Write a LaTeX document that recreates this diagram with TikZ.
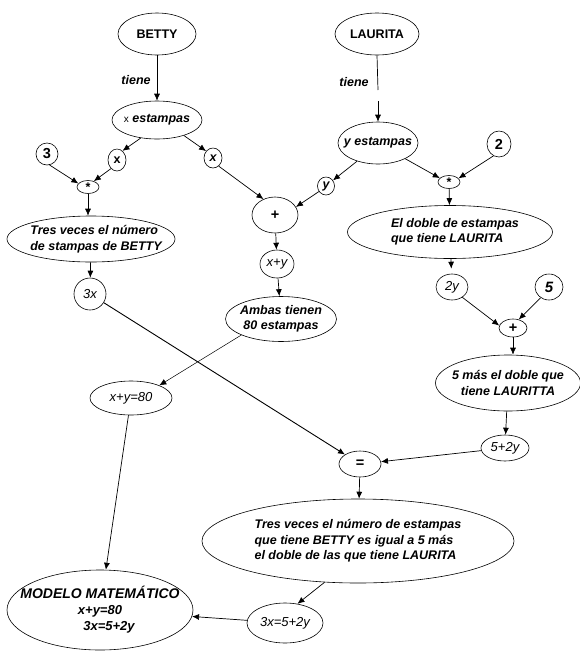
\documentclass[tikz,border=0pt]{standalone}
\usepackage{fontspec}
\setmainfont{Liberation Sans}
\usetikzlibrary{shapes.geometric,arrows.meta}
\newcommand\elnode[6][]{%
  \node[el,minimum width=#4,minimum height=#5] (#2) at (#3) {};
  \node[txt,#1] (#2-t) at (#2.center) {#6};}
\begin{document}
\begin{tikzpicture}[x=1pt,y=-1pt,
  el/.style={ellipse,draw,line width=0.6pt,inner sep=0pt},
  txt/.style={inner sep=0pt,align=center,font=\fontsize{12.5}{15.5}\selectfont\bfseries\itshape},
  up/.style={font=\fontsize{12.5}{14}\selectfont\bfseries},
  mi/.style={font=\fontsize{13}{15}\selectfont\itshape},
  big/.style={font=\fontsize{14.5}{16}\selectfont\bfseries},
  arr/.style={-{Latex[length=7pt,width=6pt]},line width=0.7pt},
  lbl/.style={inner sep=0pt,font=\fontsize{12.5}{15}\selectfont\bfseries\itshape}]
\useasboundingbox[fill=white] (0,0) rectangle (580,665);

% nodes
\elnode[up]{betty}{157,34}{78}{42}{BETTY}
\elnode[up]{laurita}{377,34}{84}{42}{LAURITA}
\elnode{xest}{157,120}{90}{38}{{\fontsize{10}{10}\selectfont\mdseries\upshape x}~estampas}
\elnode{yest}{378,143}{80}{42}{y estampas}
\elnode[big]{three}{47,154}{22}{22}{3}
\elnode[up]{xl}{117,160}{18}{22}{x}
\elnode{xr}{213,158}{18}{20}{x}
\elnode[up]{star1}{88,187}{22}{13}{*}
\elnode[big]{plus1}{275,215}{46}{36}{+}
\elnode[mi]{xy}{277,264}{34}{28}{x+y}
\elnode{ambas}{281,319}{111}{45}{Ambas tienen\\80 estampas}
\elnode[align=left,xshift=5pt]{tres}{91,239}{168}{46}{Tres veces el número\\de stampas de BETTY}
\elnode[mi]{n3x}{90,294}{32}{32}{3x}
\elnode[mi]{xy80}{131,398}{82}{34}{x+y=80}
\elnode{ycirc}{326,186}{17}{18}{y}
\elnode[big]{two}{499,144}{24}{26}{2}
\elnode[up]{star2}{449,182}{22}{13}{*}
\elnode[align=left,xshift=5pt]{doble}{450,232}{205}{53}{El doble de estampas\\que tiene LAURITA}
\elnode[mi]{n2y}{452,287}{32}{26}{2y}
\elnode[font=\fontsize{15}{16}\selectfont\bfseries\itshape]{five}{549,287}{28}{26}{5}
\elnode[big]{plus2}{513,328}{28}{18}{+}
\elnode{mas5}{508,383}{145}{56}{5 más el doble que\\tiene LAURITTA}
\elnode[mi]{n52y}{505,448}{48}{26}{5+2y}
\elnode[big]{eq}{360,464}{42}{26}{=}
\elnode[align=left]{bigt}{358,541}{312}{84}{Tres veces el número de estampas\\que tiene BETTY es igual a 5 más\\el doble de las que tiene LAURITA}
\elnode[mi]{eq2}{285,623}{76}{40}{3x=5+2y}
\elnode[font=\fontsize{14}{16}\selectfont\bfseries\itshape]{modelo}{100,610}{186}{80}{MODELO MATEMÁTICO\\{\fontsize{13}{15}\selectfont x+y=80}\hspace*{16pt}\\\hspace*{18pt}{\fontsize{13}{15}\selectfont 3x=5+2y}}

% labels
\node[lbl] (t1) at (136,80) {tiene};
\node[lbl] (t2) at (354,82) {tiene};

% connectors
\draw[arr] (betty) -- (xest);
\coordinate (l1) at (378,90);
\coordinate (l2) at (378,101);
\draw[line width=0.7pt] (laurita.south) -- (l1);
\draw[arr] (l2) -- (yest.north);
\draw[arr] (xest.228) -- (xl.59);
\draw[arr] (xl.235) -- (star1.45);
\draw[arr] (three.283) -- (star1.160);
\draw[arr] (xest.-30) -- (xr.135);
\draw[arr] (xr.-55) -- (plus1.126);
\draw[arr] (star1) -- (star1 |- tres.north);
\draw[arr] (tres) -- (n3x);
\draw[arr] (plus1) -- (xy);
\draw[arr] (xy) -- (ambas);
\draw[arr,line width=0.5pt] (ambas.202) -- (xy80.24);
\draw[arr] (xy80) -- (modelo);
\draw[arr,line width=0.9pt] (n3x) -- (eq);
\draw[arr] (yest.221) -- (ycirc.39);
\draw[arr] (ycirc.218) -- (plus1.21);
\draw[arr] (yest.-30) -- (star2.157);
\draw[arr] (two.245) -- (star2.21);
\draw[arr] (star2) -- (doble);
\draw[arr,shorten >=5pt] (doble) -- (n2y);
\draw[arr] (n2y.-45) -- (plus2.170);
\draw[arr] (five.232) -- (plus2.56);
\draw[arr] (plus2) -- (plus2 |- mas5.north);
\draw[arr] (mas5) -- (n52y);
\draw[arr] (n52y) -- (eq);
\draw[arr] (eq) -- (bigt);
\draw[arr] (bigt.231) -- (eq2.57);
\draw[arr] (eq2) -- (modelo);
\end{tikzpicture}
\end{document}
